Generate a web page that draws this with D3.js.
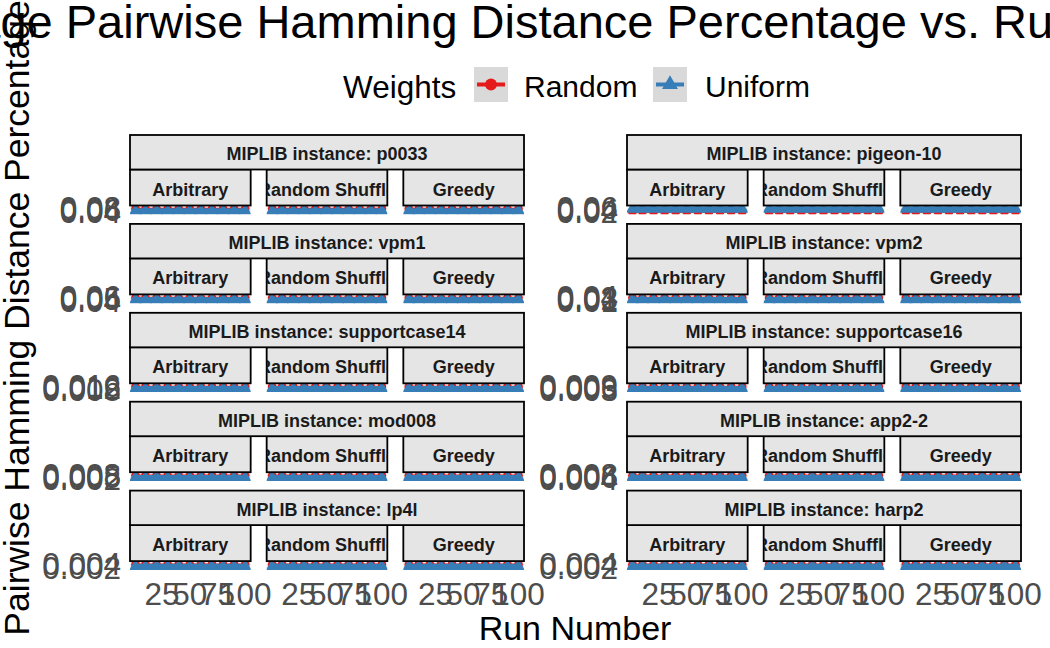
<!DOCTYPE html>
<html><head><meta charset="utf-8">
<script src="https://cdn.jsdelivr.net/npm/d3@7"></script>
<style>
body{margin:0;background:#fff}
svg{display:block}
text{font-family:"Liberation Sans",Arial,Helvetica,sans-serif}
</style>
</head><body>
<svg id="chart" width="1050" height="648"></svg>
<script>
// ---------------- data ----------------
const instances = ["p0033","pigeon-10","vpm1","vpm2","supportcase14","supportcase16","mod008","app2-2","lp4l","harp2"];
const methods = ["Arbitrary","Random Shuffle","Greedy"];
const weights = ["Random","Uniform"];
const runs = [1,10,20,30,40,50,60,70,80,90,100];
const xTickValues = [25,50,75,100];
const yTickLabels = [
  ["0.04","0.06","0.08"],
  ["0.02","0.04","0.06"],
  ["0.04","0.05","0.06"],
  ["0.01","0.02","0.03","0.04"],
  ["0.008","0.012","0.016"],
  ["0.003","0.006","0.009"],
  ["0.002","0.005","0.008"],
  ["0.004","0.006","0.008"],
  ["0.002","0.004"],
  ["0.002","0.004"]
];
// values[instance][method] -> one value per run
const randomValues = [
  [[0.0706,0.0704,0.0707,0.0705,0.0706,0.0708,0.0705,0.0706,0.0704,0.0707,0.0706],[0.0705,0.0706,0.0704,0.0707,0.0706,0.0705,0.0708,0.0706,0.0705,0.0704,0.0706],[0.0707,0.0705,0.0706,0.0704,0.0708,0.0706,0.0705,0.0707,0.0706,0.0705,0.0704]],
  [[0.0207,0.0205,0.0208,0.0206,0.0207,0.0209,0.0206,0.0207,0.0205,0.0208,0.0207],[0.0206,0.0207,0.0205,0.0208,0.0207,0.0206,0.0209,0.0207,0.0206,0.0205,0.0207],[0.0208,0.0206,0.0207,0.0205,0.0209,0.0207,0.0206,0.0208,0.0207,0.0206,0.0205]],
  [[0.0553,0.0552,0.0554,0.0553,0.0552,0.0553,0.0554,0.0552,0.0553,0.0554,0.0553],[0.0552,0.0553,0.0554,0.0552,0.0553,0.0554,0.0553,0.0552,0.0553,0.0553,0.0554],[0.0554,0.0553,0.0552,0.0553,0.0554,0.0552,0.0553,0.0554,0.0552,0.0553,0.0553]],
  [[0.0329,0.0327,0.0330,0.0328,0.0329,0.0331,0.0328,0.0329,0.0327,0.0330,0.0329],[0.0328,0.0329,0.0327,0.0330,0.0329,0.0328,0.0331,0.0329,0.0328,0.0327,0.0329],[0.0330,0.0328,0.0329,0.0327,0.0331,0.0329,0.0328,0.0330,0.0329,0.0328,0.0327]],
  [[0.01411,0.01408,0.01413,0.01410,0.01411,0.01414,0.01409,0.01411,0.01408,0.01412,0.01411],[0.01410,0.01411,0.01408,0.01413,0.01411,0.01409,0.01414,0.01411,0.01410,0.01408,0.01411],[0.01412,0.01410,0.01411,0.01408,0.01414,0.01411,0.01409,0.01413,0.01411,0.01410,0.01408]],
  [[0.00758,0.00756,0.00759,0.00757,0.00758,0.00760,0.00757,0.00758,0.00756,0.00759,0.00758],[0.00757,0.00758,0.00756,0.00759,0.00758,0.00757,0.00760,0.00758,0.00757,0.00756,0.00758],[0.00759,0.00757,0.00758,0.00756,0.00760,0.00758,0.00757,0.00759,0.00758,0.00757,0.00756]],
  [[0.00658,0.00656,0.00659,0.00657,0.00658,0.00660,0.00657,0.00658,0.00656,0.00659,0.00658],[0.00657,0.00658,0.00656,0.00659,0.00658,0.00657,0.00660,0.00658,0.00657,0.00656,0.00658],[0.00659,0.00657,0.00658,0.00656,0.00660,0.00658,0.00657,0.00659,0.00658,0.00657,0.00656]],
  [[0.00706,0.00705,0.00707,0.00706,0.00705,0.00707,0.00706,0.00705,0.00706,0.00707,0.00706],[0.00705,0.00706,0.00707,0.00705,0.00706,0.00707,0.00706,0.00705,0.00706,0.00706,0.00707],[0.00707,0.00706,0.00705,0.00706,0.00707,0.00705,0.00706,0.00707,0.00705,0.00706,0.00706]],
  [[0.00353,0.00352,0.00354,0.00353,0.00352,0.00353,0.00354,0.00352,0.00353,0.00354,0.00353],[0.00352,0.00353,0.00354,0.00352,0.00353,0.00354,0.00353,0.00352,0.00353,0.00353,0.00354],[0.00354,0.00353,0.00352,0.00353,0.00354,0.00352,0.00353,0.00354,0.00352,0.00353,0.00353]],
  [[0.00354,0.00353,0.00352,0.00353,0.00354,0.00353,0.00352,0.00354,0.00353,0.00352,0.00353],[0.00353,0.00352,0.00354,0.00353,0.00352,0.00354,0.00353,0.00353,0.00352,0.00354,0.00353],[0.00352,0.00353,0.00353,0.00354,0.00352,0.00353,0.00354,0.00352,0.00353,0.00353,0.00354]]
];
const uniformValues = [
  [[0.0494,0.0493,0.0495,0.0494,0.0493,0.0494,0.0495,0.0493,0.0494,0.0495,0.0494],[0.0493,0.0494,0.0495,0.0493,0.0494,0.0495,0.0494,0.0493,0.0494,0.0494,0.0495],[0.0495,0.0494,0.0493,0.0494,0.0495,0.0493,0.0494,0.0495,0.0493,0.0494,0.0494]],
  [[0.0488,0.0487,0.0489,0.0488,0.0487,0.0488,0.0489,0.0487,0.0488,0.0489,0.0488],[0.0487,0.0488,0.0489,0.0487,0.0488,0.0489,0.0488,0.0487,0.0488,0.0488,0.0489],[0.0489,0.0488,0.0487,0.0488,0.0489,0.0487,0.0488,0.0489,0.0487,0.0488,0.0488]],
  [[0.0447,0.0446,0.0448,0.0447,0.0446,0.0447,0.0448,0.0446,0.0447,0.0448,0.0447],[0.0446,0.0447,0.0448,0.0446,0.0447,0.0448,0.0447,0.0446,0.0447,0.0447,0.0448],[0.0448,0.0447,0.0446,0.0447,0.0448,0.0446,0.0447,0.0448,0.0446,0.0447,0.0447]],
  [[0.0171,0.0170,0.0172,0.0171,0.0170,0.0171,0.0172,0.0170,0.0171,0.0172,0.0171],[0.0170,0.0171,0.0172,0.0170,0.0171,0.0172,0.0171,0.0170,0.0171,0.0171,0.0172],[0.0172,0.0171,0.0170,0.0171,0.0172,0.0170,0.0171,0.0172,0.0170,0.0171,0.0171]],
  [[0.00989,0.00987,0.00990,0.00988,0.00989,0.00991,0.00988,0.00989,0.00987,0.00990,0.00989],[0.00988,0.00989,0.00987,0.00990,0.00989,0.00988,0.00991,0.00989,0.00988,0.00987,0.00989],[0.00990,0.00988,0.00989,0.00987,0.00991,0.00989,0.00988,0.00990,0.00989,0.00988,0.00987]],
  [[0.00442,0.00441,0.00443,0.00442,0.00441,0.00442,0.00443,0.00441,0.00442,0.00443,0.00442],[0.00441,0.00442,0.00443,0.00441,0.00442,0.00443,0.00442,0.00441,0.00442,0.00442,0.00443],[0.00443,0.00442,0.00441,0.00442,0.00443,0.00441,0.00442,0.00443,0.00441,0.00442,0.00442]],
  [[0.00342,0.00341,0.00343,0.00342,0.00341,0.00342,0.00343,0.00341,0.00342,0.00343,0.00342],[0.00341,0.00342,0.00343,0.00341,0.00342,0.00343,0.00342,0.00341,0.00342,0.00342,0.00343],[0.00343,0.00342,0.00341,0.00342,0.00343,0.00341,0.00342,0.00343,0.00341,0.00342,0.00342]],
  [[0.00494,0.00493,0.00495,0.00494,0.00493,0.00494,0.00495,0.00493,0.00494,0.00495,0.00494],[0.00493,0.00494,0.00495,0.00493,0.00494,0.00495,0.00494,0.00493,0.00494,0.00494,0.00495],[0.00495,0.00494,0.00493,0.00494,0.00495,0.00493,0.00494,0.00495,0.00493,0.00494,0.00494]],
  [[0.00247,0.00246,0.00248,0.00247,0.00246,0.00247,0.00248,0.00246,0.00247,0.00248,0.00247],[0.00246,0.00247,0.00248,0.00246,0.00247,0.00248,0.00247,0.00246,0.00247,0.00247,0.00248],[0.00248,0.00247,0.00246,0.00247,0.00248,0.00246,0.00247,0.00248,0.00246,0.00247,0.00247]],
  [[0.00248,0.00247,0.00246,0.00247,0.00248,0.00247,0.00246,0.00248,0.00247,0.00246,0.00247],[0.00247,0.00246,0.00248,0.00247,0.00246,0.00248,0.00247,0.00247,0.00246,0.00248,0.00247],[0.00246,0.00247,0.00247,0.00248,0.00246,0.00247,0.00248,0.00246,0.00247,0.00247,0.00248]]
];
const titleText = "Average Pairwise Hamming Distance Percentage vs. Run Number";
const xTitle = "Run Number";
const yTitle = "Pairwise Hamming Distance Percentage";
const legendTitle = "Weights";

// ---------------- layout ----------------
const colors = {Random:"#E41A1C", Uniform:"#377EB8"};
const svg = d3.select("#chart");
const colX = [130, 627];
const colW = 394;
const gap = 16;
const pw = (colW - 2*gap)/3;
const row0 = 135, rowPitch = 88.9;
const outerH = 34.5, innerH = 36, panelH = 8.8;
const stripFill = "#e5e5e5";
const defs = svg.append("defs");

const x = d3.scaleLinear().domain([1 - 99*0.05, 100 + 99*0.05]);

const tri = d3.symbol().type(d3.symbolTriangle).size(75);
const circ = d3.symbol().type(d3.symbolCircle).size(60);

instances.forEach((inst, i) => {
  const col = i % 2, row = Math.floor(i/2);
  const left = colX[col];
  const top = row0 + row*rowPitch;
  const g = svg.append("g");
  const pTop = top + outerH + innerH;
  const tickVals = yTickLabels[i].map(Number);
  const all = [...randomValues[i].flat(), ...uniformValues[i].flat(), ...tickVals];
  const ext = d3.extent(all);
  const pad = (ext[1]-ext[0])*0.6;
  const y = d3.scaleLinear().domain([ext[0]-pad, ext[1]+pad]).range([pTop+panelH, pTop]);

  methods.forEach((m, j) => {
    const px = left + j*(pw+gap);
    const xs = x.copy().range([px, px+pw]);
    g.append("rect").attr("x",px).attr("y",pTop).attr("width",pw).attr("height",panelH).attr("fill","#ebebeb");
    const cid = `clip-${i}-${j}`;
    defs.append("clipPath").attr("id",cid).append("rect").attr("x",px).attr("y",pTop).attr("width",pw).attr("height",panelH);
    const pg = g.append("g").attr("clip-path",`url(#${cid})`);
    pg.selectAll(".grid").data(tickVals).enter().append("line")
      .attr("x1",px).attr("x2",px+pw).attr("y1",d=>y(d)).attr("y2",d=>y(d))
      .attr("stroke","#fff").attr("stroke-width",0.8);
    [["Random",randomValues[i][j]],["Uniform",uniformValues[i][j]]].forEach(([w, vals]) => {
      const pts = runs.map((r,k)=>[r, vals[k]]);
      pg.append("path").datum(pts)
        .attr("d", d3.line().x(d=>xs(d[0])).y(d=>y(d[1])))
        .attr("fill","none").attr("stroke",colors[w]).attr("stroke-width", w==="Uniform" ? 5.5 : 2);
      pg.selectAll(null).data(pts).enter().append("path")
        .attr("transform", d=>`translate(${xs(d[0])},${y(d[1])})`)
        .attr("d", w==="Random" ? circ : tri)
        .attr("fill", colors[w]);
    });
    // inner strip
    const sg = g.append("g");
    const scid = `sclip-${i}-${j}`;
    defs.append("clipPath").attr("id",scid).append("rect").attr("x",px).attr("y",top+outerH).attr("width",pw).attr("height",innerH);
    sg.append("rect").attr("x",px).attr("y",top+outerH).attr("width",pw).attr("height",innerH)
      .attr("fill",stripFill).attr("stroke","#000").attr("stroke-width",1.8);
    sg.append("text").attr("clip-path",`url(#${scid})`)
      .attr("x",px+pw/2).attr("y",top+outerH+innerH/2+8)
      .attr("text-anchor","middle").attr("font-size",18).attr("font-weight","bold").attr("fill","#1a1a1a")
      .text(m);

    if (row === 4) {
      svg.append("g").selectAll("text").data(xTickValues).enter().append("text")
        .attr("x", d=>xs(d)).attr("y", pTop+panelH+35)
        .attr("text-anchor","middle").attr("font-size",31.5).attr("fill","#4d4d4d")
        .text(d=>d);
    }
  });
  // outer strip
  g.append("rect").attr("x",left).attr("y",top).attr("width",colW).attr("height",outerH)
    .attr("fill",stripFill).attr("stroke","#000").attr("stroke-width",1.8);
  g.append("text").attr("x",left+colW/2).attr("y",top+outerH/2+8)
    .attr("text-anchor","middle").attr("font-size",18).attr("font-weight","bold").attr("fill","#1a1a1a")
    .text("MIPLIB instance: " + inst);
  // y tick labels
  g.selectAll(".yt").data(yTickLabels[i]).enter().append("text")
    .attr("x", left-9).attr("y", d=>y(+d)+11)
    .attr("text-anchor","end").attr("font-size",31.5).attr("fill","#4d4d4d")
    .text(d=>d);
});

// titles
svg.append("text").attr("x",569).attr("y",38).attr("text-anchor","middle")
  .attr("font-size",47).attr("fill","#000").text(titleText);
svg.append("text").attr("x",575).attr("y",640).attr("text-anchor","middle")
  .attr("font-size",34).attr("fill","#000").text(xTitle);
svg.append("text").attr("transform","translate(29,318) rotate(-90)").attr("text-anchor","middle")
  .attr("font-size",35.5).attr("fill","#000").text(yTitle);

// legend
const lg = svg.append("g");
lg.append("text").attr("x",343).attr("y",98).attr("font-size",31.5).attr("fill","#000").text(legendTitle);
const keyX = [474, 653], labX = [524, 705];
weights.forEach((w, k) => {
  lg.append("rect").attr("x",keyX[k]).attr("y",67).attr("width",34).attr("height",35).attr("fill","#d9d9d9");
  lg.append("line").attr("x1",keyX[k]+3).attr("x2",keyX[k]+31).attr("y1",84.5).attr("y2",84.5)
    .attr("stroke",colors[w]).attr("stroke-width",4);
  lg.append("path").attr("transform",`translate(${keyX[k]+17},84.5)`)
    .attr("d", w==="Random" ? d3.symbol().type(d3.symbolCircle).size(110)() : d3.symbol().type(d3.symbolTriangle).size(110)())
    .attr("fill",colors[w]);
  lg.append("text").attr("x",labX[k]).attr("y",97).attr("font-size",30).attr("fill","#000").text(w);
});
</script>
</body></html>
